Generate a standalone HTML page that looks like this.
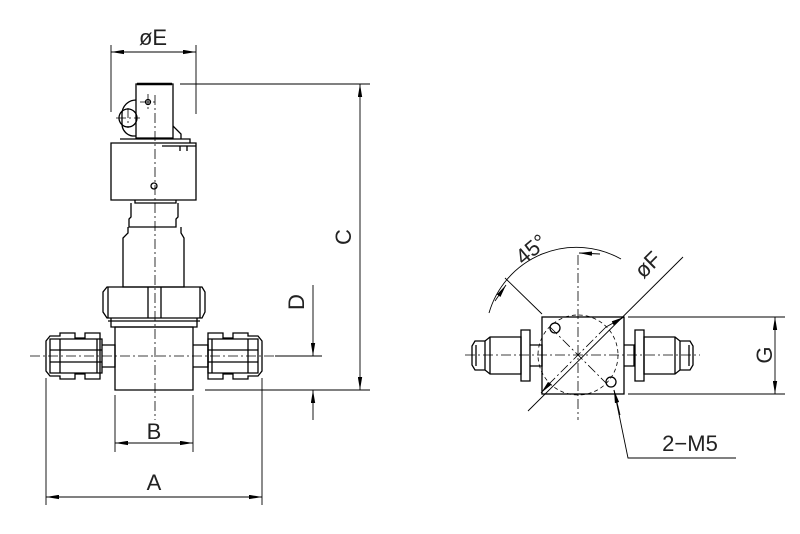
<!DOCTYPE html>
<html><head><meta charset="utf-8"><style>html,body{margin:0;padding:0;background:#fff}svg{display:block}</style></head>
<body>
<svg width="800" height="534" viewBox="0 0 800 534" xmlns="http://www.w3.org/2000/svg" font-family="Liberation Sans, sans-serif">
<defs>
<marker id="ar" viewBox="0 0 12 4" refX="12" refY="2" markerWidth="13" markerHeight="4.5" orient="auto-start-reverse" markerUnits="userSpaceOnUse"><path d="M0,0 L12,2 L0,4 Z" fill="#000"/></marker>
</defs>
<g stroke="#000" stroke-width="1.3" fill="none">
<path d="M136,84 H173 V138 H136 Z"/>
<path d="M137,84 H172" stroke-width="2.5"/>
<path d="M136,100 a14,14 0 0 0 -14,14 v10 a12,12 0 0 0 12,12 h2"/>
<circle cx="128" cy="118" r="9"/>
<path d="M173,126 l8,8 v5"/>
<circle cx="148" cy="102" r="2.5"/>
<path d="M111,143 H196 V200 H111 Z"/>
<path d="M120,139 H190 V143"/>
<path d="M162,146 H196 M180,146 V151 M187,146 V151"/>
<circle cx="154" cy="186" r="3"/>
<path d="M135,200 V203 H176 V200"/>
<path d="M131,203 V217 L129,219 V227 H176 V219 L178,217 V203"/>
<path d="M128,227 V233 L123,238 V287 H184 V238 L181,233 V227"/>
<path d="M107,287 H202 L205,292 V312 L202,318 H107 L103,312 V292 Z"/>
<path d="M108,287 V318 M200,287 V318 M148,287 V318 M161,287 V318"/>
<path d="M108,321 H200 M111,318 V327 H197 V318"/>
<path d="M115,327 H193 V390 H115 Z"/>
<path d="M102,345 H115 V367 H102"/>
<path d="M50,339 H102 V373 H50 Z"/>
<path d="M46,341 L50,336 H60 V333 H75 V338 H85 V333 H100 V379 H85 V374 H75 V379 H60 V376 H50 L46,371 Z"/>
<path d="M50,350 H102 M50,362 H102 M60,339 V373 M97,339 V373"/>
<path d="M193,345 H208 V367 H193"/>
<path d="M208,339 H258 V373 H208 Z"/>
<path d="M262,341 L258,336 H248 V333 H233 V338 H223 V333 H208 V379 H223 V374 H233 V379 H248 V376 H258 L262,371 Z"/>
<path d="M208,350 H258 M208,362 H258 M248,339 V373 M212,339 V373"/>
</g>
<g stroke="#000" stroke-width="0.8" stroke-dasharray="10,3,2,3" fill="none">
<path d="M155,95 V420"/>
<path d="M30,356 H275"/>
<path d="M140,102 H156 M148,94 V110 M116,118 H140 M128,108 V128"/>
<path d="M578,255 V420 M465,355 H700"/>
<path d="M550,327 L606,383 M606,327 L550,383"/>
</g>
<g stroke="#000" stroke-width="0.9" fill="none">
<path d="M111,45 V112 M196,45 V114"/>
<path d="M111,52 H196" marker-start="url(#ar)" marker-end="url(#ar)"/>
<path d="M180,84 H370 M205,390 H370"/>
<path d="M360,84 V390" marker-start="url(#ar)" marker-end="url(#ar)"/>
<path d="M275,356 H322"/>
<path d="M313,285 V356" marker-end="url(#ar)"/>
<path d="M313,420 V390" marker-end="url(#ar)"/>
<path d="M115,395 V452 M193,395 V452"/>
<path d="M115,443 H193" marker-start="url(#ar)" marker-end="url(#ar)"/>
<path d="M46,378 V505 M262,378 V505"/>
<path d="M46,497 H262" marker-start="url(#ar)" marker-end="url(#ar)"/>
</g>
<g font-size="22" fill="#222" stroke="none">
<text x="153" y="45" text-anchor="middle">øE</text>
<text x="343" y="237" text-anchor="middle" transform="rotate(-90 343 237)" dy="8">C</text>
<text x="296" y="302" text-anchor="middle" transform="rotate(-90 296 302)" dy="8">D</text>
<text x="154" y="439" text-anchor="middle">B</text>
<text x="154" y="490" text-anchor="middle">A</text>
</g>
<g stroke="#000" stroke-width="1.3" fill="none">
<rect x="542" y="317" width="82" height="77"/>
<circle cx="555" cy="328" r="5"/><circle cx="611" cy="382" r="5"/>
<path d="M532,345 H542 V366 H532"/>
<path d="M521,330 H530 V381 H521 Z M530,345 h2 M530,366 h2"/>
<path d="M490,337 H521 V374 H490 L485,370 V341 Z"/>
<path d="M485,341 H475 L472,346 V365 L475,370 H485"/>
<path d="M490,337 V374 M476,345 V366"/>
<path d="M624,345 H634 V366 H624"/>
<path d="M635,330 H644 V381 H635 Z M634,345 h1 M634,366 h1"/>
<path d="M644,337 H675 L680,341 V370 L675,374 H644 Z"/>
<path d="M680,341 H690 L693,346 V365 L690,370 H680"/>
<path d="M675,337 V374 M689,345 V366"/>
</g>
<g stroke="#000" stroke-width="0.8" stroke-dasharray="4,3" fill="none">
<circle cx="578" cy="355" r="40"/>
</g>
<g stroke="#000" stroke-width="0.9" fill="none">
<path d="M528,411 L683,257"/>
<path d="M550,383 L541,393" marker-end="url(#ar)"/>
<path d="M606,327 L624,317" marker-end="url(#ar)"/>
<path d="M542,314 L505,278"/>
<path d="M489,313 A91,91 0 0 1 621,259"/>
<path d="M495,301 L506,285" marker-end="url(#ar)"/>
<path d="M600,254 L579,253" marker-end="url(#ar)"/>
<path d="M628,317 H785 M628,394 H785"/>
<path d="M775,317 V394" marker-start="url(#ar)" marker-end="url(#ar)"/>
<path d="M736,458 H628 L614,390"/>
<path d="M620,415 L614,390" marker-end="url(#ar)"/>
</g>
<g font-size="22" fill="#222" stroke="none">
<text x="536" y="255" text-anchor="middle" transform="rotate(-40 536 255)">45°</text>
<text x="653" y="270" text-anchor="middle" transform="rotate(-45 653 270)">øF</text>
<text x="764" y="355" text-anchor="middle" transform="rotate(-90 764 355)" dy="8">G</text>
<text x="690" y="451" text-anchor="middle">2−M5</text>
</g>
</svg>
</body></html>
